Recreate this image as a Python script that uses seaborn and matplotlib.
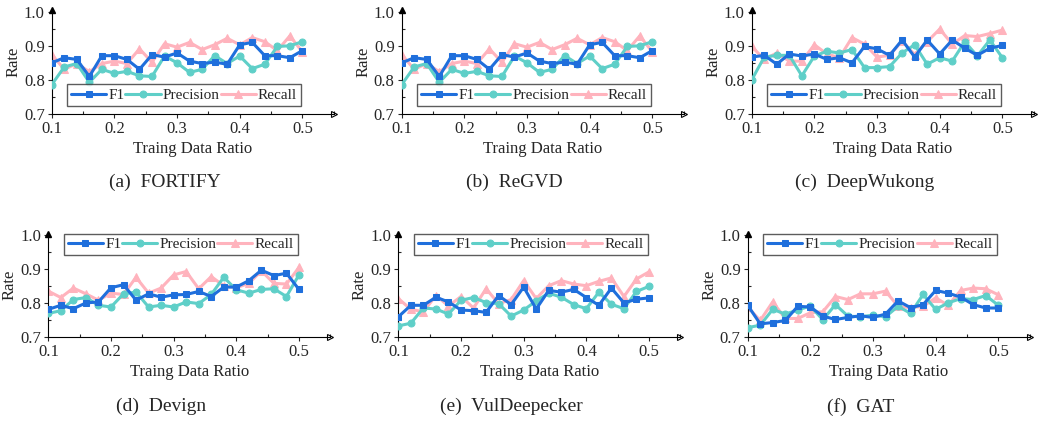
import numpy as np
import pandas as pd
import matplotlib
matplotlib.use("Agg")
import matplotlib.pyplot as plt
import seaborn as sns
from matplotlib.ticker import MultipleLocator

# Training data ratios (x axis)
ratios = [0.10, 0.12, 0.14, 0.16, 0.18, 0.20, 0.22, 0.24, 0.26, 0.28, 0.30,
          0.32, 0.34, 0.36, 0.38, 0.40, 0.42, 0.44, 0.46, 0.48, 0.50]

# FORTIFY
fortify_f1 = [0.850, 0.865, 0.860, 0.810, 0.871, 0.871, 0.860, 0.831, 0.874, 0.867, 0.879,
              0.855, 0.848, 0.852, 0.846, 0.903, 0.910, 0.871, 0.871, 0.865, 0.886]
fortify_prec = [0.786, 0.838, 0.848, 0.793, 0.831, 0.819, 0.825, 0.812, 0.810, 0.870, 0.850,
                0.822, 0.831, 0.871, 0.848, 0.870, 0.833, 0.846, 0.898, 0.900, 0.912]
fortify_rec = [0.874, 0.831, 0.848, 0.824, 0.848, 0.855, 0.848, 0.891, 0.852, 0.906, 0.896,
               0.910, 0.889, 0.903, 0.922, 0.903, 0.924, 0.912, 0.886, 0.929, 0.882]

# ReGVD
regvd_f1 = [0.850, 0.865, 0.860, 0.810, 0.871, 0.871, 0.860, 0.831, 0.874, 0.867, 0.879,
            0.855, 0.848, 0.852, 0.846, 0.903, 0.910, 0.871, 0.871, 0.865, 0.886]
regvd_prec = [0.786, 0.838, 0.848, 0.793, 0.831, 0.819, 0.825, 0.812, 0.810, 0.870, 0.850,
              0.822, 0.831, 0.871, 0.848, 0.870, 0.833, 0.846, 0.898, 0.900, 0.912]
regvd_rec = [0.874, 0.831, 0.848, 0.824, 0.848, 0.855, 0.848, 0.891, 0.852, 0.906, 0.896,
             0.910, 0.889, 0.903, 0.922, 0.903, 0.924, 0.912, 0.886, 0.929, 0.882]

# DeepWukong
wukong_f1 = [0.867, 0.872, 0.846, 0.876, 0.870, 0.876, 0.860, 0.865, 0.850, 0.898, 0.891,
             0.872, 0.917, 0.867, 0.917, 0.876, 0.917, 0.893, 0.872, 0.893, 0.901]
wukong_prec = [0.800, 0.867, 0.872, 0.872, 0.812, 0.870, 0.884, 0.879, 0.889, 0.836, 0.836,
               0.839, 0.879, 0.903, 0.846, 0.865, 0.855, 0.912, 0.870, 0.917, 0.865]
wukong_rec = [0.898, 0.860, 0.879, 0.855, 0.855, 0.903, 0.876, 0.865, 0.924, 0.905, 0.867,
              0.872, 0.914, 0.874, 0.912, 0.949, 0.905, 0.930, 0.927, 0.936, 0.946]

# Devign
devign_f1 = [0.781, 0.793, 0.783, 0.800, 0.803, 0.845, 0.854, 0.808, 0.827, 0.817, 0.824,
             0.825, 0.834, 0.819, 0.847, 0.847, 0.866, 0.897, 0.881, 0.888, 0.840]
devign_prec = [0.769, 0.777, 0.810, 0.816, 0.793, 0.788, 0.827, 0.832, 0.788, 0.793, 0.788,
               0.803, 0.798, 0.825, 0.876, 0.839, 0.829, 0.840, 0.842, 0.819, 0.883]
devign_rec = [0.835, 0.816, 0.844, 0.827, 0.808, 0.829, 0.825, 0.876, 0.829, 0.844, 0.883,
              0.893, 0.842, 0.878, 0.851, 0.845, 0.858, 0.895, 0.858, 0.856, 0.905]

# VulDeepecker
vuldee_f1 = [0.759, 0.793, 0.793, 0.817, 0.803, 0.779, 0.777, 0.772, 0.822, 0.795, 0.847,
             0.782, 0.837, 0.832, 0.840, 0.816, 0.793, 0.844, 0.800, 0.811, 0.815]
vuldee_prec = [0.732, 0.740, 0.785, 0.782, 0.767, 0.808, 0.816, 0.801, 0.798, 0.761, 0.779,
               0.806, 0.829, 0.817, 0.795, 0.783, 0.832, 0.796, 0.783, 0.834, 0.849]
vuldee_rec = [0.813, 0.781, 0.774, 0.822, 0.791, 0.819, 0.785, 0.842, 0.798, 0.810, 0.866,
              0.813, 0.851, 0.866, 0.856, 0.851, 0.864, 0.874, 0.819, 0.871, 0.892]

# GAT
gat_f1 = [0.793, 0.738, 0.742, 0.748, 0.790, 0.788, 0.761, 0.751, 0.757, 0.762, 0.757,
          0.767, 0.806, 0.786, 0.795, 0.837, 0.829, 0.817, 0.795, 0.785, 0.785]
gat_prec = [0.727, 0.734, 0.781, 0.767, 0.779, 0.791, 0.750, 0.795, 0.761, 0.759, 0.764,
            0.759, 0.790, 0.769, 0.825, 0.781, 0.800, 0.813, 0.810, 0.822, 0.793]
gat_rec = [0.788, 0.748, 0.803, 0.754, 0.754, 0.771, 0.774, 0.819, 0.810, 0.827, 0.827,
           0.835, 0.790, 0.786, 0.790, 0.815, 0.793, 0.837, 0.844, 0.842, 0.824]

panels = [
    ("(a)  FORTIFY", fortify_f1, fortify_prec, fortify_rec),
    ("(b)  ReGVD", regvd_f1, regvd_prec, regvd_rec),
    ("(c)  DeepWukong", wukong_f1, wukong_prec, wukong_rec),
    ("(d)  Devign", devign_f1, devign_prec, devign_rec),
    ("(e)  VulDeepecker", vuldee_f1, vuldee_prec, vuldee_rec),
    ("(f)  GAT", gat_f1, gat_prec, gat_rec),
]

metrics = ["F1", "Precision", "Recall"]
palette = {"F1": "#1f6fdc", "Precision": "#5fcfc8", "Recall": "#ffb3bd"}
marker_map = {"F1": "s", "Precision": "o", "Recall": "^"}

sns.set_style("white")
plt.rcParams["font.family"] = ["Liberation Serif", "DejaVu Serif"]

fig = plt.figure(figsize=(10.39, 4.23), dpi=100)

# axes positions (figure fraction)
lefts_top = [0.0498, 0.3866, 0.7235]
lefts_bot = [0.0465, 0.3834, 0.7196]
ax_w = 0.2714

for i, (title, f1, prec, rec) in enumerate(panels):
    row = i // 3
    col = i % 3
    if row == 0:
        ax = fig.add_axes([lefts_top[col], 0.7305, ax_w, 0.2459])
    else:
        ax = fig.add_axes([lefts_bot[col], 0.204, ax_w, 0.2435])

    df = pd.DataFrame({
        "ratio": ratios * 3,
        "value": f1 + prec + rec,
        "metric": ["F1"] * len(ratios) + ["Precision"] * len(ratios) + ["Recall"] * len(ratios),
    })
    # recall first, f1 on top
    for m, z in [("Recall", 2), ("Precision", 3), ("F1", 4)]:
        sub = df[df["metric"] == m]
        sns.lineplot(data=sub, x="ratio", y="value", ax=ax, color=palette[m],
                     marker=marker_map[m], markersize=6 if m == "Recall" else 5,
                     markeredgecolor=palette[m], linewidth=2.2, label=m, zorder=z,
                     legend=False)

    ax.set_xlim(0.1, 0.55)
    ax.set_ylim(0.7, 1.005)
    ax.set_xticks([0.1, 0.2, 0.3, 0.4, 0.5])
    ax.set_yticks([0.7, 0.8, 0.9, 1.0])
    ax.xaxis.set_minor_locator(MultipleLocator(0.05))
    ax.yaxis.set_minor_locator(MultipleLocator(0.05))
    ax.tick_params(which="major", direction="out", length=3, width=0.8,
                   labelsize=12, pad=2, bottom=True, left=True)
    ax.tick_params(which="minor", direction="in", length=2, width=0.8,
                   bottom=True, left=True)
    for s in ["top", "right"]:
        ax.spines[s].set_visible(False)
    for s in ["left", "bottom"]:
        ax.spines[s].set_color("black")
        ax.spines[s].set_linewidth(0.8)

    # arrow heads on axes
    ax.plot(1, 0, marker=">", color="black", markersize=5, transform=ax.transAxes,
            clip_on=False, markerfacecolor="none", markeredgewidth=0.8)
    ax.plot(0, 1, marker="^", color="black", markersize=5, transform=ax.transAxes,
            clip_on=False)

    ax.set_xlabel("Traing Data Ratio", fontsize=12, labelpad=3)
    ax.set_ylabel("Rate", fontsize=12, labelpad=2)

    handles, labels = ax.get_legend_handles_labels()
    order = [labels.index(m) for m in metrics]
    handles = [handles[k] for k in order]
    labels = [labels[k] for k in order]
    if row == 0:
        loc, anchor = "lower left", (0.055, 0.08)
    else:
        loc, anchor = "upper left", (0.055, 1.0)
    leg = ax.legend(handles, labels, loc=loc, bbox_to_anchor=anchor, ncol=3,
                    fontsize=11, frameon=True, fancybox=False, handlelength=2.3,
                    handletextpad=0.15, columnspacing=0.05, borderpad=0.25,
                    borderaxespad=0.0)
    leg.get_frame().set_edgecolor("#333333")
    leg.get_frame().set_linewidth(1.0)

    # subplot caption
    cap_y = -0.66 if row == 0 else -0.68
    ax.text(0.40, cap_y, title, transform=ax.transAxes, ha="center", va="center",
            fontsize=14)

fig.savefig("out.png", dpi=100)
